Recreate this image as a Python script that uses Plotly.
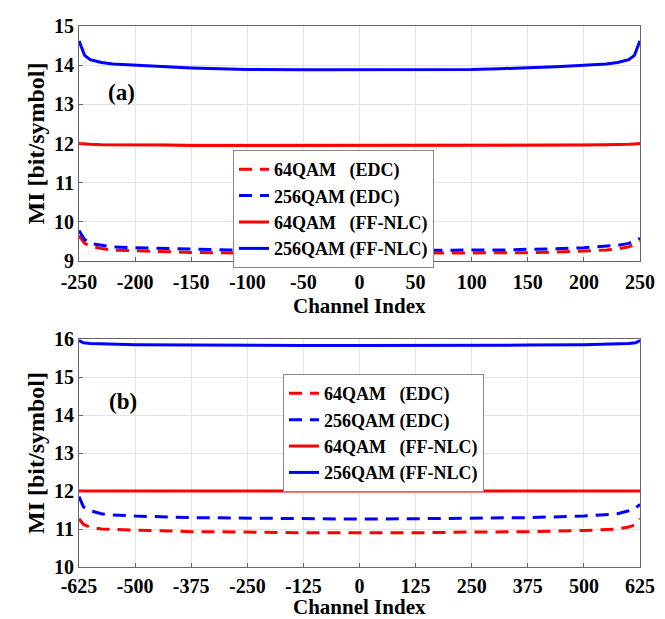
import plotly.graph_objects as go

# ---- Panel (a) data ----
ch_a = [-250, -247, -245, -240, -230, -220, -200, -175, -150, -125, -100, -50, 0, 50, 100, 125, 150, 175, 200, 220, 230, 240, 245, 247, 250]
edc64_a = [9.65, 9.52, 9.45, 9.38, 9.32, 9.28, 9.26, 9.24, 9.22, 9.21, 9.2, 9.2, 9.2, 9.2, 9.2, 9.2, 9.21, 9.23, 9.25, 9.28, 9.31, 9.36, 9.42, 9.45, 9.5]
edc256_a = [9.78, 9.62, 9.55, 9.45, 9.4, 9.36, 9.34, 9.32, 9.31, 9.29, 9.27, 9.27, 9.27, 9.27, 9.27, 9.28, 9.3, 9.31, 9.34, 9.38, 9.4, 9.45, 9.5, 9.53, 9.58]
nlc64_a = [12.0, 11.99, 11.99, 11.98, 11.97, 11.97, 11.96, 11.96, 11.95, 11.95, 11.95, 11.95, 11.95, 11.95, 11.95, 11.95, 11.95, 11.96, 11.96, 11.97, 11.97, 11.98, 11.99, 11.99, 12.0]
nlc256_a = [14.62, 14.4, 14.25, 14.14, 14.07, 14.03, 14.0, 13.96, 13.93, 13.91, 13.89, 13.88, 13.88, 13.88, 13.89, 13.91, 13.93, 13.96, 14.0, 14.03, 14.07, 14.14, 14.25, 14.4, 14.62]

# ---- Panel (b) data ----
ch_b = [-625, -615, -600, -575, -550, -500, -375, -250, -125, 0, 125, 250, 375, 500, 550, 575, 600, 615, 625]
edc64_b = [11.27, 11.12, 11.05, 11.0, 10.99, 10.97, 10.93, 10.92, 10.9, 10.9, 10.9, 10.92, 10.93, 10.96, 10.98, 11.0, 11.05, 11.12, 11.27]
edc256_b = [11.85, 11.58, 11.48, 11.4, 11.37, 11.34, 11.3, 11.29, 11.27, 11.26, 11.27, 11.29, 11.3, 11.34, 11.37, 11.4, 11.48, 11.55, 11.65]
nlc64_b = [12.0] * len(ch_b)
nlc256_b = [15.96, 15.9, 15.88, 15.87, 15.86, 15.85, 15.84, 15.83, 15.83, 15.83, 15.83, 15.83, 15.84, 15.85, 15.86, 15.87, 15.88, 15.9, 15.96]

names = ["64QAM\u00a0\u00a0\u00a0(EDC)", "256QAM (EDC)", "64QAM\u00a0\u00a0\u00a0(FF-NLC)", "256QAM (FF-NLC)"]
colors = ["#ff0000", "#0000ff", "#ff0000", "#0000ff"]
dashes = ["13px,8px", "13px,8px", "solid", "solid"]

xticks_a = [-250, -200, -150, -100, -50, 0, 50, 100, 150, 200, 250]
xticks_b = [-625, -500, -375, -250, -125, 0, 125, 250, 375, 500, 625]
yticks_a = [9, 10, 11, 12, 13, 14, 15]
yticks_b = [10, 11, 12, 13, 14, 15, 16]

FONT = "'Liberation Serif', 'Times New Roman', Tinos, 'DejaVu Serif', serif"

fig = go.Figure()
series_a = [edc64_a, edc256_a, nlc64_a, nlc256_a]
series_b = [edc64_b, edc256_b, nlc64_b, nlc256_b]
for i in range(4):
    fig.add_trace(go.Scatter(x=ch_a, y=series_a[i], mode="lines", name=names[i],
                             line=dict(color=colors[i], width=3, dash=dashes[i]),
                             xaxis="x", yaxis="y", legend="legend"))
for i in range(4):
    fig.add_trace(go.Scatter(x=ch_b, y=series_b[i], mode="lines", name=names[i],
                             line=dict(color=colors[i], width=3, dash=dashes[i]),
                             xaxis="x2", yaxis="y2", legend="legend2"))

axis_common = dict(showline=True, mirror=True, linecolor="#666666", linewidth=1,
                   showgrid=True, gridcolor="#e3e3e3", gridwidth=1, zeroline=False,
                   ticks="inside", ticklen=4, tickcolor="#666666", automargin=False,
                   tickfont=dict(family=FONT, size=20, color="black", weight="bold"))

xtitle_font = dict(family=FONT, size=21, color="black", weight="bold")
ytitle_font = dict(family=FONT, size=24, color="black", weight="bold")

def lbl(v):
    return [str(t) for t in v]

fig.update_layout(
    width=665, height=619,
    paper_bgcolor="white", plot_bgcolor="white",
    margin=dict(l=71, r=33, t=18, b=60, autoexpand=False),
    showlegend=True,
    font=dict(family=FONT),
    xaxis=dict(domain=[0, 1], anchor="y", range=[-250, 250], tickvals=xticks_a, ticktext=lbl(xticks_a),
               ticklabelstandoff=3, **axis_common),
    yaxis=dict(domain=[0.5656, 1], anchor="x", range=[9, 15], tickvals=yticks_a, ticktext=lbl(yticks_a),
               title=dict(text="MI [bit/symbol]", font=ytitle_font, standoff=2), **axis_common),
    xaxis2=dict(domain=[0, 1], anchor="y2", range=[-625, 625], tickvals=xticks_b, ticktext=lbl(xticks_b),
                ticklabelstandoff=1, **axis_common),
    yaxis2=dict(domain=[0, 0.4214], anchor="x2", range=[10, 16], tickvals=yticks_b, ticktext=lbl(yticks_b),
                title=dict(text="MI [bit/symbol]", font=ytitle_font, standoff=2), **axis_common),
    legend=dict(x=0.2745, y=0.7708, xanchor="left", yanchor="top",
                bgcolor="white", bordercolor="#888888", borderwidth=1,
                font=dict(family=FONT, size=18, color="black", weight="bold"),
                itemwidth=30, tracegroupgap=0),
    legend2=dict(x=0.3636, y=0.3567, xanchor="left", yanchor="top",
                 bgcolor="white", bordercolor="#888888", borderwidth=1,
                 font=dict(family=FONT, size=18, color="black", weight="bold"),
                 itemwidth=30, tracegroupgap=0),
    annotations=[
        dict(text="(a)", x=-212, y=13.29, xref="x", yref="y", showarrow=False,
             font=dict(family=FONT, size=23, color="black", weight="bold")),
        dict(text="(b)", x=-527, y=14.35, xref="x2", yref="y2", showarrow=False,
             font=dict(family=FONT, size=23, color="black", weight="bold")),
        dict(text="Channel Index", x=0.5, y=0.4566, xref="paper", yref="paper",
             xanchor="center", yanchor="bottom", showarrow=False, font=xtitle_font),
        dict(text="Channel Index", x=0.5, y=-0.0998, xref="paper", yref="paper",
             xanchor="center", yanchor="bottom", showarrow=False, font=xtitle_font),
    ],
)

fig.write_html("out.html")
